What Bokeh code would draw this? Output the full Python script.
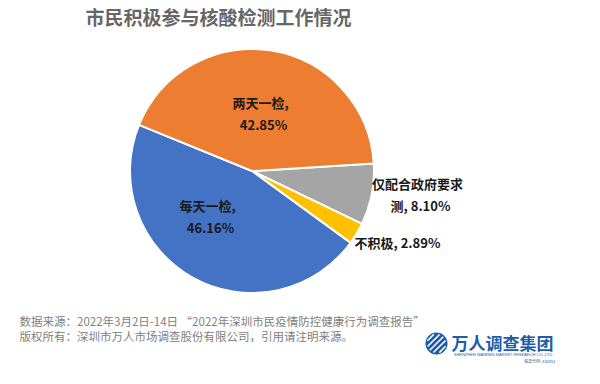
import numpy as np
from bokeh.plotting import figure
from bokeh.models import Range1d, ColumnDataSource
from bokeh.core.properties import value
from bokeh.embed import file_html
from bokeh.resources import INLINE

# ---- data ----
categories = ["仅配合政府要求测", "不积极", "每天一检", "两天一检"]
shares = [8.10, 2.89, 46.16, 42.85]
colors = ["#A5A5A5", "#FFC000", "#4472C4", "#ED7D31"]
title_text = "市民积极参与核酸检测工作情况"
footer_lines = [
    "数据来源：2022年3月2日-14日 “2022年深圳市民疫情防控健康行为调查报告”",
    "版权所有：深圳市万人市场调查股份有限公司，引用请注明来源。",
]

W, H = 584, 368
FONT = "Noto Sans CJK SC"

def px(x):
    return x - 8

def py(y):
    return 376 - y

p = figure(width=W, height=H, output_backend="svg", toolbar_location=None,
           x_range=Range1d(0, W), y_range=Range1d(0, H), min_border=0)
p.axis.visible = False
p.grid.visible = False
p.outline_line_color = None
p.background_fill_color = "white"
p.border_fill_color = "white"

# ---- pie ----
cx, cy, r = px(259.5), py(178.5), 122
start_deg = 3.5
vals = np.array(shares)
spans = vals / vals.sum() * 2 * np.pi
ends = np.deg2rad(start_deg) - np.concatenate([[0], np.cumsum(spans)[:-1]])
starts = ends - spans
src = ColumnDataSource(dict(start=starts, end=ends, color=colors))
p.wedge(x=cx, y=cy, radius=r, start_angle="start", end_angle="end",
        direction="anticlock", fill_color="color", line_color="white",
        line_width=2, source=src)

# ---- data labels ----
full = [f"{c}, {v:.2f}%" for c, v in zip(categories, shares)]
# (break position, page anchor x, page y line1, align)
layout = [
    (7, 425, 191, "center"),
    (None, 362, 250, "left"),
    (5, 215, 213, "center"),
    (5, 268, 110, "center"),
]
lx, ly, lt, la = [], [], [], []
for txt, (brk, x0, y0, al) in zip(full, layout):
    if brk is None:
        lines = [txt]
    else:
        lines = [txt[:brk].strip(), txt[brk:].strip()]
    for i, ln in enumerate(lines):
        lx.append(px(x0 if (al == "left" or i == 0) else x0 + 3))
        ly.append(py(y0 + 22 * i))
        lt.append(ln)
        la.append(al)
for al in ("center", "left"):
    idx = [i for i in range(len(lt)) if la[i] == al]
    p.text(x=[lx[i] for i in idx], y=[ly[i] for i in idx], text=[lt[i] for i in idx],
           text_font=value(FONT), text_font_size="13px", text_font_style="bold",
           text_color="#1a1a1a", text_align=al, text_baseline="middle")

# ---- title ----
p.text(x=[px(93)], y=[py(24)], text=[title_text], text_font=value(FONT),
       text_font_size="19px", text_font_style="bold", text_color="#666666",
       text_align="left", text_baseline="middle")

# ---- footer ----
p.text(x=[px(27), px(27)], y=[py(328), py(343)], text=footer_lines,
       text_font=value(FONT), text_font_size="11.5px", text_color="#808080",
       text_align="left", text_baseline="middle")

# ---- logo ----
lcx, lcy = px(444), py(351)
p.circle(x=[lcx], y=[lcy], radius=11, fill_color="#1D5DA8", line_color=None)
seg_x, seg_y = [], []
for k in range(-2, 3):
    off = k * 4.2
    half = np.sqrt(max(0, 9.5 ** 2 - off ** 2))
    ux, uy = np.cos(np.pi / 4), np.sin(np.pi / 4)
    nx, ny = -uy, ux
    bx, by = lcx + nx * off, lcy + ny * off
    seg_x.append([bx - ux * half, bx + ux * half])
    seg_y.append([by - uy * half, by + uy * half])
p.multi_line(xs=seg_x, ys=seg_y, line_color="white", line_width=1.6)
p.text(x=[px(459)], y=[py(350)], text=["万人调查集团"], text_font=value(FONT),
       text_font_size="17px", text_font_style="bold", text_color="#1D5DA8",
       text_align="left", text_baseline="middle")
p.text(x=[px(511)], y=[py(362)], text=["SHENZHEN WANREN MARKET RESEARCH CO.,LTD."],
       text_font=value("Liberation Sans"), text_font_size="4px",
       text_color="#1D5DA8", text_align="center", text_baseline="middle")
p.text(x=[px(563)], y=[py(368)], text=["股票代码: 430451"], text_font=value(FONT),
       text_font_size="4px", text_color="#1D5DA8", text_align="right",
       text_baseline="middle")

open("out.html", "w").write(file_html(p, INLINE))
